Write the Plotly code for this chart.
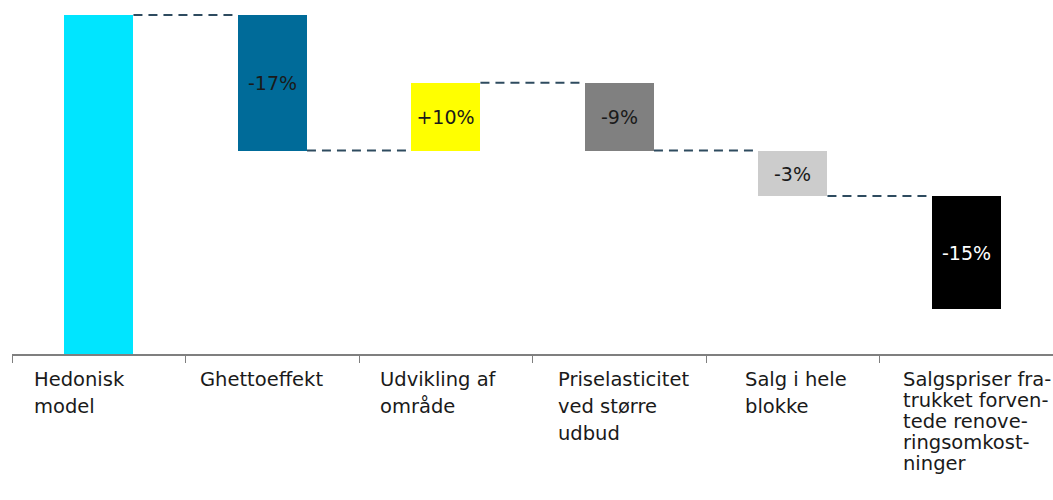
import plotly.graph_objects as go

# category text, one list of lines per category
category_lines = [
    ["Hedonisk", "model"],
    ["Ghettoeffekt"],
    ["Udvikling af", "område"],
    ["Priselasticitet", "ved større", "udbud"],
    ["Salg i hele", "blokke"],
    ["Salgspriser fra-", "trukket forven-", "tede renove-", "ringsomkost-", "ninger"],
]
# first bar is the starting level, the rest are changes (index units)
changes = [100, -17, 8.5, -8.5, -5.7, -14.2]
bar_labels = ["", "-17%", "+10%", "-9%", "-3%", "-15%"]
bar_colors = ["#00E5FF", "#006B99", "#FFFF00", "#808080", "#CCCCCC", "#000000"]
label_colors = ["#1a1a1a", "#1a1a1a", "#1a1a1a", "#1a1a1a", "#1a1a1a", "#FFFFFF"]
label_shift = [20, 12, 19, 23, 37, 21]  # px offset of category text from tick
line_step = [27, 27, 27, 27, 27, 21]    # px between text lines

axis_min = 57.5
FONT = "Century Gothic, URW Gothic, DejaVu Sans"

# running levels
bases, heights, ends = [], [], []
level = 0.0
for i, c in enumerate(changes):
    if i == 0:
        level = c
        bases.append(axis_min)
        heights.append(c - axis_min)
    else:
        start = level
        level = start + c
        bases.append(min(start, level))
        heights.append(abs(c))
    ends.append(level)

x = list(range(len(category_lines)))
w = 0.4

fig = go.Figure()
fig.add_trace(go.Bar(
    x=x,
    y=heights,
    base=bases,
    width=w,
    marker=dict(color=bar_colors, line=dict(width=0)),
    text=bar_labels,
    textposition="inside",
    insidetextanchor="middle",
    textangle=0,
    textfont=dict(family=FONT, size=19, color=label_colors),
    hoverinfo="skip",
))

# dashed connectors between bars
cx, cy = [], []
for i in range(len(category_lines) - 1):
    cx += [i + w / 2, i + 1 - w / 2, None]
    cy += [ends[i], ends[i], None]
fig.add_trace(go.Scatter(
    x=cx, y=cy, mode="lines",
    line=dict(color="#2E4B5F", width=2, dash="9px,6px"),
    hoverinfo="skip",
))

for i, lines in enumerate(category_lines):
    for k, txt in enumerate(lines):
        fig.add_annotation(
            x=i - 0.5, y=0, xref="x", yref="paper",
            text=txt, showarrow=False,
            xanchor="left", yanchor="top", align="left",
            xshift=label_shift[i], yshift=-12 - k * line_step[i],
            font=dict(family=FONT, size=19.5, color="#1a1a1a"),
        )

fig.update_layout(
    width=1053,
    height=500,
    margin=dict(l=12, r=0, t=5, b=146),
    plot_bgcolor="white",
    paper_bgcolor="white",
    showlegend=False,
    bargap=0,
    xaxis=dict(
        range=[-0.5, len(category_lines) - 0.5],
        tickmode="array",
        tickvals=[i - 0.5 for i in range(len(category_lines) + 1)],
        showticklabels=False,
        ticks="outside",
        ticklen=7,
        tickcolor="#7f7f7f",
        showline=True,
        linecolor="#7f7f7f",
        linewidth=1.5,
        showgrid=False,
        zeroline=False,
        fixedrange=True,
    ),
    yaxis=dict(
        range=[axis_min, 100 + 10 / 7.976],
        visible=False,
        showgrid=False,
        fixedrange=True,
    ),
)

fig.write_html(
    "out.html",
    config={"displayModeBar": False},
    post_script="document.body.style.margin='0';",
)
